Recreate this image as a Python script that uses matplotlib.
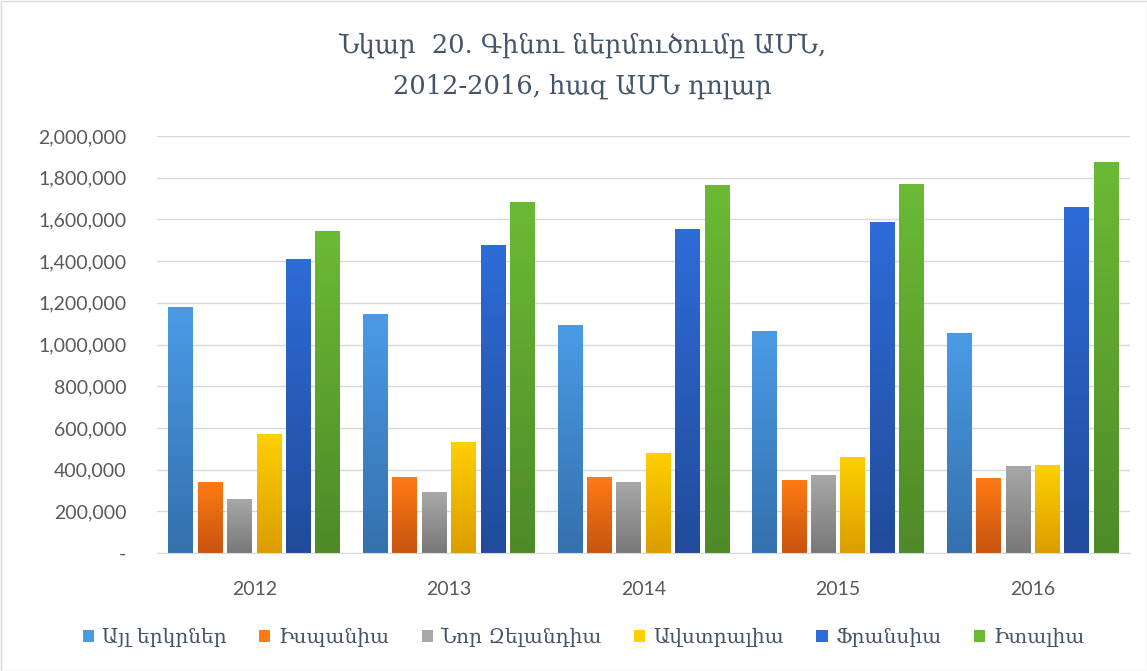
import numpy as np
import matplotlib
matplotlib.use("Agg")
import matplotlib.pyplot as plt
from matplotlib.colors import LinearSegmentedColormap
from matplotlib.patches import Rectangle
from matplotlib.ticker import FuncFormatter

plt.rcParams["font.family"] = ["DejaVu Serif", "DejaVu Sans"]

years = ["2012", "2013", "2014", "2015", "2016"]
series = ["Այլ երկրներ", "Իսպանիա", "Նոր Զելանդիա", "Ավստրալիա", "Ֆրանսիա", "Իտալիա"]
other = [1178000, 1145000, 1093000, 1066000, 1053000]
spain = [339000, 363000, 363000, 350000, 360000]
new_zealand = [258000, 291000, 339000, 374000, 418000]
australia = [572000, 534000, 482000, 460000, 422000]
france = [1412000, 1479000, 1552000, 1586000, 1659000]
italy = [1546000, 1684000, 1763000, 1768000, 1874000]
values = [other, spain, new_zealand, australia, france, italy]

# (top, bottom) of each gradient
grads = [("#4A9BE6", "#3470AC"), ("#FF7A14", "#C7540F"), ("#A8A8A8", "#787878"),
         ("#FFD000", "#DB9D00"), ("#2E6CD8", "#214B9A"), ("#6BBA34", "#4E8A28")]

TITLE_C = "#44546A"
TICK_C = "#595959"

fig = plt.figure(figsize=(11.47, 6.71), dpi=100)
ax = fig.add_axes([157 / 1147, 1 - 553 / 671, (1130 - 157) / 1147, (553 - 136) / 671])

x = np.arange(len(years))
step, width = 0.151, 0.128
grad = np.linspace(0, 1, 256).reshape(-1, 1)
for i, (vals, (top, bot)) in enumerate(zip(values, grads)):
    bars = ax.bar(x + (i - 2.5) * step, vals, width, color=top, zorder=2, label=series[i])
    cmap = LinearSegmentedColormap.from_list(f"g{i}", [bot, top])
    for b in bars:
        b.set_facecolor("none")
        x0, y0 = b.get_x(), b.get_y()
        im = ax.imshow(grad, cmap=cmap, aspect="auto", origin="lower",
                       extent=(x0, x0 + b.get_width(), y0, y0 + b.get_height()), zorder=2)
        im.set_clip_path(b)

ax.set_xlim(-0.5, 4.5)
ax.set_ylim(0, 2000000)
ax.set_yticks(np.arange(0, 2000001, 200000))
ax.yaxis.set_major_formatter(FuncFormatter(lambda v, p: "-" if v == 0 else f"{int(v):,}"))
ax.set_xticks(x)
ax.set_xticklabels(years)
ax.grid(axis="y", color="#D9D9D9", lw=1, zorder=0)
for s in ("top", "right", "left"):
    ax.spines[s].set_visible(False)
ax.spines["bottom"].set_color("#D9D9D9")
ax.tick_params(axis="both", length=0, labelsize=14, colors=TICK_C, labelfontfamily="Lato")
ax.tick_params(axis="y", pad=22)
ax.tick_params(axis="x", pad=20)
for t in ax.get_yticklabels():
    t.set_horizontalalignment("right")

fig.text(0.508, 1 - 45 / 671, "Նկար  20. Գինու ներմուծումը ԱՄՆ,", ha="center", va="center",
         fontsize=18.5, color=TITLE_C)
fig.text(0.508, 1 - 86 / 671, "2012-2016, հազ ԱՄՆ դոլար", ha="center", va="center",
         fontsize=18.5, color=TITLE_C)

handles = [Rectangle((0, 0), 1, 1, facecolor=grads[i][0]) for i in range(len(series))]
leg = fig.legend(handles, series, loc="center", bbox_to_anchor=(0.509, 1 - 637 / 671), ncol=6,
                 frameon=False, fontsize=14.5, handlelength=0.55, handleheight=0.55,
                 handletextpad=0.4, columnspacing=1.6, labelcolor=TITLE_C)

fig.patches.append(Rectangle((0.5 / 1147, 0.5 / 671), 1 - 1 / 1147, 1 - 1 / 671,
                             transform=fig.transFigure, fill=False, edgecolor="#D9D9D9", lw=1))

fig.savefig("out.png", dpi=100)
